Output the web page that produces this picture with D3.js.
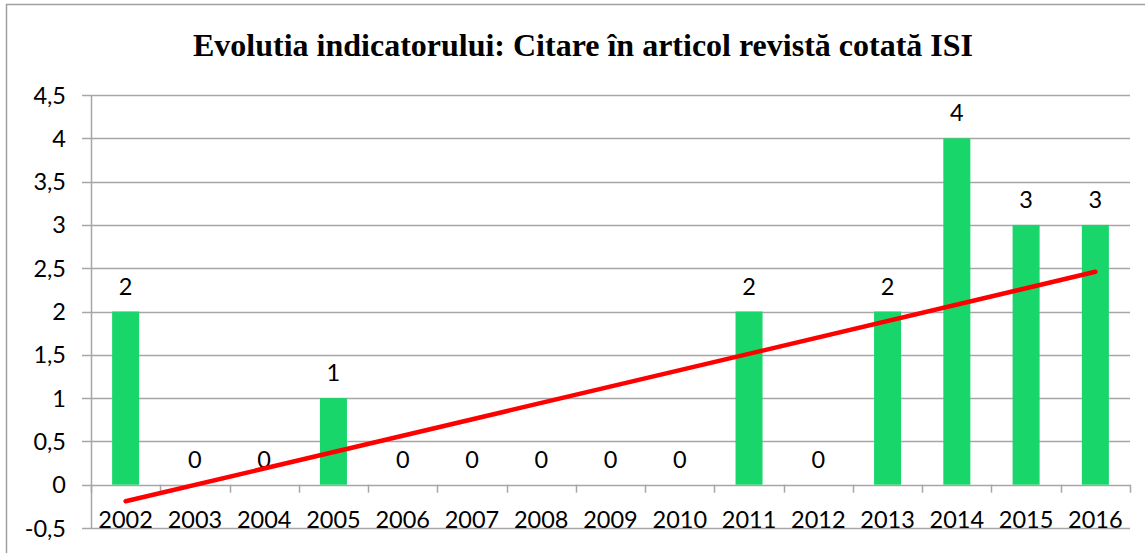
<!DOCTYPE html>
<html>
<head>
<meta charset="utf-8">
<script src="https://cdn.jsdelivr.net/npm/d3@7"></script>
<style>
  body { margin: 0; background: #fff; }
  text { font-family: Lato, "Open Sans", sans-serif; fill: #000; }
  text.title { font-family: "Liberation Serif", "Times New Roman", serif; font-weight: bold; }
</style>
</head>
<body>
<svg width="1145" height="553"></svg>
<script>
// Chart data
const years = ["2002","2003","2004","2005","2006","2007","2008","2009","2010","2011","2012","2013","2014","2015","2016"];
const values = [2, 0, 0, 1, 0, 0, 0, 0, 0, 2, 0, 2, 4, 3, 3];
const yTicks = [-0.5, 0, 0.5, 1, 1.5, 2, 2.5, 3, 3.5, 4, 4.5];
const title = "Evolutia indicatorului: Citare în articol revistă cotată ISI";

const svg = d3.select("svg");
const plotLeft = 91, plotRight = 1130, plotTop = 95, plotBottom = 528;
const FONT = "23.5px";

// outer chart border
svg.append("rect")
    .attr("x", 6.5).attr("y", 4.5)
    .attr("width", 1160).attr("height", 580)
    .attr("fill", "none").attr("stroke", "#a0a0a0").attr("stroke-width", 1.5);

// title
svg.append("text")
    .attr("class", "title")
    .attr("x", 583).attr("y", 56)
    .attr("text-anchor", "middle")
    .attr("textLength", 780).attr("lengthAdjust", "spacingAndGlyphs")
    .style("font-size", "32px")
    .text(title);

// scales
const x = d3.scaleBand().domain(years).range([plotLeft, plotRight]).paddingInner(0.61).paddingOuter(0.305);
const band = d3.scaleBand().domain(years).range([plotLeft, plotRight]);
const y = d3.scaleLinear().domain([-0.5, 4.5]).range([plotBottom, plotTop]);

// gridlines + left tick marks
svg.append("g").selectAll("line")
    .data(yTicks)
    .enter().append("line")
    .attr("x1", plotLeft - 9).attr("x2", plotRight)
    .attr("y1", d => Math.round(y(d)) + 0.5).attr("y2", d => Math.round(y(d)) + 0.5)
    .attr("stroke", "#a6a6a6").attr("stroke-width", 1.5);

// y axis line
svg.append("line")
    .attr("x1", plotLeft + 0.5).attr("x2", plotLeft + 0.5)
    .attr("y1", plotTop).attr("y2", plotBottom)
    .attr("stroke", "#a6a6a6").attr("stroke-width", 1.5);

// y tick labels
svg.append("g").selectAll("text")
    .data(yTicks)
    .enter().append("text")
    .attr("x", 66).attr("y", d => y(d) + 8.5)
    .attr("text-anchor", "end")
    .style("font-size", FONT)
    .text(d => String(d).replace(".", ","));

// category ticks along zero line
const tickXs = years.map(d => band(d)).concat([plotRight]);
svg.append("g").selectAll("line")
    .data(tickXs)
    .enter().append("line")
    .attr("x1", d => Math.round(d) + 0.5).attr("x2", d => Math.round(d) + 0.5)
    .attr("y1", y(0)).attr("y2", y(0) + 8)
    .attr("stroke", "#a6a6a6").attr("stroke-width", 1.5);

// bars
svg.append("g").selectAll("rect")
    .data(values)
    .enter().append("rect")
    .attr("x", (d, i) => x(years[i]))
    .attr("width", x.bandwidth())
    .attr("y", d => y(d))
    .attr("height", d => y(0) - y(d))
    .attr("fill", "#19d66a");

// category labels
svg.append("g").selectAll("text")
    .data(years)
    .enter().append("text")
    .attr("x", d => band(d) + band.bandwidth() / 2)
    .attr("y", 528)
    .attr("text-anchor", "middle")
    .style("font-size", FONT)
    .text(d => d);

// data labels
svg.append("g").selectAll("text")
    .data(values)
    .enter().append("text")
    .attr("x", (d, i) => band(years[i]) + band.bandwidth() / 2)
    .attr("y", d => y(d) - 17)
    .attr("text-anchor", "middle")
    .style("font-size", FONT)
    .text(d => d);

// linear trendline (least squares over category index)
const n = values.length;
const xs = d3.range(1, n + 1);
const mx = d3.mean(xs), my = d3.mean(values);
const slope = d3.sum(xs, (xi, i) => (xi - mx) * (values[i] - my)) / d3.sum(xs, xi => (xi - mx) ** 2);
const intercept = my - slope * mx;
const cx = i => band(years[i]) + band.bandwidth() / 2;

svg.append("line")
    .attr("x1", cx(0)).attr("y1", y(intercept + slope * 1))
    .attr("x2", cx(n - 1)).attr("y2", y(intercept + slope * n))
    .attr("stroke", "#ff0000").attr("stroke-width", 4.5)
    .attr("stroke-linecap", "round");
</script>
</body>
</html>
